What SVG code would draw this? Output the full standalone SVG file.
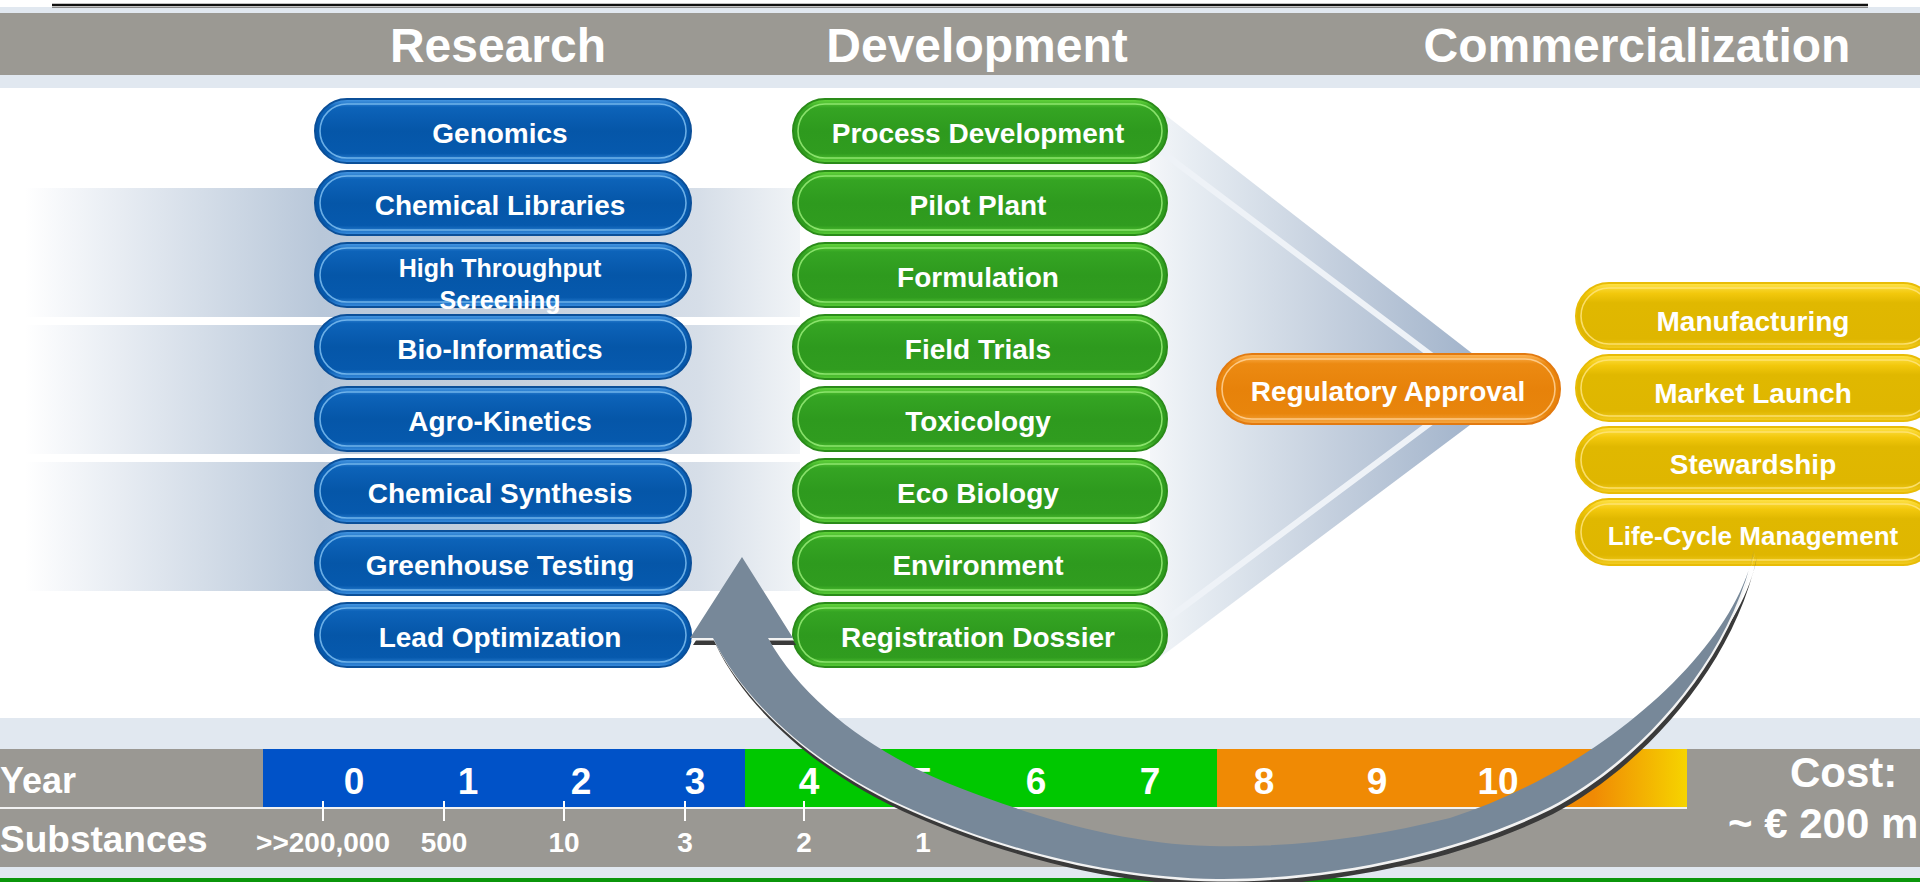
<svg xmlns="http://www.w3.org/2000/svg" width="1920" height="882" viewBox="0 0 1920 882">
  <defs>
    <!-- glossy pill fills -->
    <linearGradient id="gBlue" x1="0" y1="0" x2="0" y2="1">
      <stop offset="0" stop-color="#4a9be6"/>
      <stop offset="0.13" stop-color="#0d63b9"/>
      <stop offset="0.5" stop-color="#0556a8"/>
      <stop offset="0.85" stop-color="#0659ad"/>
      <stop offset="1" stop-color="#3a8ee0"/>
    </linearGradient>
    <linearGradient id="gGreen" x1="0" y1="0" x2="0" y2="1">
      <stop offset="0" stop-color="#66d83e"/>
      <stop offset="0.14" stop-color="#35a523"/>
      <stop offset="0.5" stop-color="#2e9a1e"/>
      <stop offset="0.85" stop-color="#309c1f"/>
      <stop offset="1" stop-color="#5acd38"/>
    </linearGradient>
    <linearGradient id="gOrange" x1="0" y1="0" x2="0" y2="1">
      <stop offset="0" stop-color="#ffb85a"/>
      <stop offset="0.14" stop-color="#ec8a12"/>
      <stop offset="0.5" stop-color="#e7820a"/>
      <stop offset="0.85" stop-color="#e8850c"/>
      <stop offset="1" stop-color="#f6a844"/>
    </linearGradient>
    <linearGradient id="gYellow" x1="0" y1="0" x2="0" y2="1">
      <stop offset="0" stop-color="#ffe34a"/>
      <stop offset="0.16" stop-color="#f2c80c"/>
      <stop offset="0.3" stop-color="#e0b800"/>
      <stop offset="0.85" stop-color="#dfb600"/>
      <stop offset="1" stop-color="#f4ce24"/>
    </linearGradient>
    <!-- soft horizontal bands behind the research column -->
    <linearGradient id="gBand" gradientUnits="userSpaceOnUse" x1="25" y1="0" x2="800" y2="0">
      <stop offset="0" stop-color="#ffffff"/>
      <stop offset="0.05" stop-color="#f5f7fa"/>
      <stop offset="0.38" stop-color="#b8c7d9"/>
      <stop offset="0.62" stop-color="#c3cfdd"/>
      <stop offset="0.87" stop-color="#d6dee8"/>
      <stop offset="1" stop-color="#f1f4f7"/>
    </linearGradient>
    <!-- funnel converging on approval -->
    <linearGradient id="gFunnel" gradientUnits="userSpaceOnUse" x1="1150" y1="0" x2="1520" y2="0">
      <stop offset="0" stop-color="#f4f6f9"/>
      <stop offset="0.12" stop-color="#e6ecf2"/>
      <stop offset="0.55" stop-color="#bfcbdb"/>
      <stop offset="1" stop-color="#97abc5"/>
    </linearGradient>
    <linearGradient id="gLate" gradientUnits="userSpaceOnUse" x1="1217" y1="0" x2="1687" y2="0">
      <stop offset="0" stop-color="#f08a04"/>
      <stop offset="0.8" stop-color="#f08a04"/>
      <stop offset="1" stop-color="#f6d400"/>
    </linearGradient>
    <path id="loopArrow" d="M1754,550 C1735,650 1600,770 1450,818 C1370,838 1290,848 1210,846 C1120,844 1030,815 960,788 C880,757 805,705 768,638 L793,638 L742,557 L690,638 L713,638 C745,705 820,770 913,810 C1000,848 1110,878 1217,879 C1330,880 1460,852 1550,807 C1640,760 1730,660 1754,550 Z"/>
  </defs>
  <style>
    .txt{font-family:"Liberation Sans",Arial,Helvetica,sans-serif;font-weight:bold;fill:#ffffff}
    .lbl{font-size:28px;text-anchor:middle}
    .lbl-s{font-size:25px;text-anchor:middle}
    .head{font-size:48px;text-anchor:middle}
    .yr{font-size:37px;text-anchor:middle}
    .sub{font-size:28px;text-anchor:middle}
    .row{font-size:36px}
    .pill-body{stroke-width:2}
    .pill-rim{fill:none;stroke-width:1.6;opacity:0.85}
    .blue .pill-body{fill:url(#gBlue);stroke:#0b4f98}
    .blue .pill-rim{stroke:#7dbdf0}
    .green .pill-body{fill:url(#gGreen);stroke:#2a8b19}
    .green .pill-rim{stroke:#98ec78}
    .orange .pill-body{fill:url(#gOrange);stroke:#e27a10}
    .orange .pill-rim{stroke:#ffd298}
    .yellow .pill-body{fill:url(#gYellow);stroke:#e8bc06}
    .yellow .pill-rim{stroke:#ffe47a}
    .band{fill:url(#gBand)}
    .tick{stroke:#ffffff;stroke-width:2}
  </style>

  <!-- page background -->
  <rect x="0" y="0" width="1920" height="882" fill="#ffffff"/>
  <rect x="0" y="7" width="1920" height="81" fill="#e1e8f0"/>
  <line x1="52" y1="5" x2="1868" y2="5" stroke="#111111" stroke-width="2.5"/>
  <line x1="52" y1="7.5" x2="1868" y2="7.5" stroke="#8a8a8a" stroke-width="1"/>

  <!-- phase header -->
  <g id="phase-header">
    <rect x="0" y="13" width="1920" height="62" fill="#9b9993"/>
    <text class="txt head" x="498" y="62">Research</text>
    <text class="txt head" x="977" y="62">Development</text>
    <text class="txt head" x="1637" y="62">Commercialization</text>
  </g>

  <!-- background bands -->
  <g id="bands">
    <rect class="band" x="25" y="188" width="775" height="129"/>
    <rect class="band" x="25" y="325" width="775" height="129"/>
    <rect class="band" x="25" y="462" width="775" height="129"/>
  </g>

  <!-- funnel -->
  <g id="funnel">
    <polygon points="1150,103 1518,389 1150,665" fill="url(#gFunnel)"/>
    <polyline points="1150,143 1476,389 1150,632" fill="none" stroke="#eef2f7" stroke-width="6" stroke-linejoin="miter"/>
  </g>

  <!-- research column -->
  <g id="n-genomics" class="blue">
    <rect class="pill-body" x="315" y="99" width="376" height="64" rx="32"/>
    <rect class="pill-rim" x="320" y="104" width="366" height="54" rx="27"/>
    <text class="txt lbl" x="500" y="143">Genomics</text>
  </g>
  <g id="n-chemical-libraries" class="blue">
    <rect class="pill-body" x="315" y="171" width="376" height="64" rx="32"/>
    <rect class="pill-rim" x="320" y="176" width="366" height="54" rx="27"/>
    <text class="txt lbl" x="500" y="215">Chemical Libraries</text>
  </g>
  <g id="n-hts" class="blue">
    <rect class="pill-body" x="315" y="243" width="376" height="64" rx="32"/>
    <rect class="pill-rim" x="320" y="248" width="366" height="54" rx="27"/>
    <text class="txt lbl-s" x="500" y="277">High Throughput</text>
    <text class="txt lbl-s" x="500" y="309">Screening</text>
  </g>
  <g id="n-bio-informatics" class="blue">
    <rect class="pill-body" x="315" y="315" width="376" height="64" rx="32"/>
    <rect class="pill-rim" x="320" y="320" width="366" height="54" rx="27"/>
    <text class="txt lbl" x="500" y="359">Bio-Informatics</text>
  </g>
  <g id="n-agro-kinetics" class="blue">
    <rect class="pill-body" x="315" y="387" width="376" height="64" rx="32"/>
    <rect class="pill-rim" x="320" y="392" width="366" height="54" rx="27"/>
    <text class="txt lbl" x="500" y="431">Agro-Kinetics</text>
  </g>
  <g id="n-chemical-synthesis" class="blue">
    <rect class="pill-body" x="315" y="459" width="376" height="64" rx="32"/>
    <rect class="pill-rim" x="320" y="464" width="366" height="54" rx="27"/>
    <text class="txt lbl" x="500" y="503">Chemical Synthesis</text>
  </g>
  <g id="n-greenhouse-testing" class="blue">
    <rect class="pill-body" x="315" y="531" width="376" height="64" rx="32"/>
    <rect class="pill-rim" x="320" y="536" width="366" height="54" rx="27"/>
    <text class="txt lbl" x="500" y="575">Greenhouse Testing</text>
  </g>
  <g id="n-lead-optimization" class="blue">
    <rect class="pill-body" x="315" y="603" width="376" height="64" rx="32"/>
    <rect class="pill-rim" x="320" y="608" width="366" height="54" rx="27"/>
    <text class="txt lbl" x="500" y="647">Lead Optimization</text>
  </g>

  <!-- development column -->
  <g id="n-process-development" class="green">
    <rect class="pill-body" x="793" y="99" width="374" height="64" rx="32"/>
    <rect class="pill-rim" x="798" y="104" width="364" height="54" rx="27"/>
    <text class="txt lbl" x="978" y="143">Process Development</text>
  </g>
  <g id="n-pilot-plant" class="green">
    <rect class="pill-body" x="793" y="171" width="374" height="64" rx="32"/>
    <rect class="pill-rim" x="798" y="176" width="364" height="54" rx="27"/>
    <text class="txt lbl" x="978" y="215">Pilot Plant</text>
  </g>
  <g id="n-formulation" class="green">
    <rect class="pill-body" x="793" y="243" width="374" height="64" rx="32"/>
    <rect class="pill-rim" x="798" y="248" width="364" height="54" rx="27"/>
    <text class="txt lbl" x="978" y="287">Formulation</text>
  </g>
  <g id="n-field-trials" class="green">
    <rect class="pill-body" x="793" y="315" width="374" height="64" rx="32"/>
    <rect class="pill-rim" x="798" y="320" width="364" height="54" rx="27"/>
    <text class="txt lbl" x="978" y="359">Field Trials</text>
  </g>
  <g id="n-toxicology" class="green">
    <rect class="pill-body" x="793" y="387" width="374" height="64" rx="32"/>
    <rect class="pill-rim" x="798" y="392" width="364" height="54" rx="27"/>
    <text class="txt lbl" x="978" y="431">Toxicology</text>
  </g>
  <g id="n-eco-biology" class="green">
    <rect class="pill-body" x="793" y="459" width="374" height="64" rx="32"/>
    <rect class="pill-rim" x="798" y="464" width="364" height="54" rx="27"/>
    <text class="txt lbl" x="978" y="503">Eco Biology</text>
  </g>
  <g id="n-environment" class="green">
    <rect class="pill-body" x="793" y="531" width="374" height="64" rx="32"/>
    <rect class="pill-rim" x="798" y="536" width="364" height="54" rx="27"/>
    <text class="txt lbl" x="978" y="575">Environment</text>
  </g>
  <g id="n-registration-dossier" class="green">
    <rect class="pill-body" x="793" y="603" width="374" height="64" rx="32"/>
    <rect class="pill-rim" x="798" y="608" width="364" height="54" rx="27"/>
    <text class="txt lbl" x="978" y="647">Registration Dossier</text>
  </g>

  <!-- approval -->
  <g id="n-regulatory-approval" class="orange">
    <rect class="pill-body" x="1217" y="354" width="343" height="70" rx="35"/>
    <rect class="pill-rim" x="1222" y="359" width="333" height="60" rx="30"/>
    <text class="txt lbl" x="1388" y="401">Regulatory Approval</text>
  </g>

  <!-- commercialization column -->
  <g id="n-manufacturing" class="yellow">
    <rect class="pill-body" x="1576" y="283" width="360" height="66" rx="33"/>
    <rect class="pill-rim" x="1581" y="288" width="350" height="56" rx="28"/>
    <text class="txt lbl" x="1753" y="331">Manufacturing</text>
  </g>
  <g id="n-market-launch" class="yellow">
    <rect class="pill-body" x="1576" y="355" width="360" height="66" rx="33"/>
    <rect class="pill-rim" x="1581" y="360" width="350" height="56" rx="28"/>
    <text class="txt lbl" x="1753" y="403">Market Launch</text>
  </g>
  <g id="n-stewardship" class="yellow">
    <rect class="pill-body" x="1576" y="427" width="360" height="66" rx="33"/>
    <rect class="pill-rim" x="1581" y="432" width="350" height="56" rx="28"/>
    <text class="txt lbl" x="1753" y="474">Stewardship</text>
  </g>
  <g id="n-life-cycle-management" class="yellow">
    <rect class="pill-body" x="1576" y="499" width="360" height="66" rx="33"/>
    <rect class="pill-rim" x="1581" y="504" width="350" height="56" rx="28"/>
    <text class="txt lbl" x="1753" y="545" style="font-size:26px">Life-Cycle Management</text>
  </g>

  <!-- timeline -->
  <g id="timeline">
    <rect x="0" y="718" width="1920" height="160" fill="#e1e8f0"/>
    <rect x="0" y="749" width="263" height="58" fill="#9a9893"/>
    <rect x="263" y="749" width="482" height="58" fill="#0052c8"/>
    <rect x="745" y="749" width="472" height="58" fill="#00c800"/>
    <rect x="1217" y="749" width="470" height="58" fill="url(#gLate)"/>
    <rect x="0" y="807" width="1687" height="2" fill="#f2f2f2"/>
    <rect x="0" y="809" width="1687" height="58" fill="#9a9893"/>
    <rect x="1687" y="749" width="233" height="118" fill="#9a9893"/>
    <rect x="0" y="878" width="1920" height="4" fill="#0b960b"/>

    <text class="txt row" x="0" y="793">Year</text>
    <text class="txt row" x="0" y="852" style="font-size:37px">Substances</text>

    <text class="txt yr" x="354" y="794">0</text>
    <text class="txt yr" x="468" y="794">1</text>
    <text class="txt yr" x="581" y="794">2</text>
    <text class="txt yr" x="695" y="794">3</text>
    <text class="txt yr" x="809" y="794">4</text>
    <text class="txt yr" x="922" y="794">5</text>
    <text class="txt yr" x="1036" y="794">6</text>
    <text class="txt yr" x="1150" y="794">7</text>
    <text class="txt yr" x="1264" y="794">8</text>
    <text class="txt yr" x="1377" y="794">9</text>
    <text class="txt yr" x="1498" y="794">10</text>

    <line class="tick" x1="323" y1="801" x2="323" y2="821"/>
    <line class="tick" x1="444" y1="801" x2="444" y2="821"/>
    <line class="tick" x1="564" y1="801" x2="564" y2="821"/>
    <line class="tick" x1="685" y1="801" x2="685" y2="821"/>
    <line class="tick" x1="804" y1="801" x2="804" y2="821"/>

    <text class="txt sub" x="323" y="852">&gt;&gt;200,000</text>
    <text class="txt sub" x="444" y="852">500</text>
    <text class="txt sub" x="564" y="852">10</text>
    <text class="txt sub" x="685" y="852">3</text>
    <text class="txt sub" x="804" y="852">2</text>
    <text class="txt sub" x="923" y="852">1</text>

    <text class="txt" x="1790" y="787" style="font-size:42px">Cost:</text>
    <text class="txt" x="1728" y="838" style="font-size:42px">~ € 200 m</text>
  </g>

  <!-- feedback loop from life-cycle management back to research -->
  <g id="connectors">
    <use href="#loopArrow" transform="translate(3,7)" fill="#3a3a3a"/>
    <use href="#loopArrow" transform="translate(1,2.5)" fill="#f2f2f2"/>
    <use href="#loopArrow" fill="#778899"/>
  </g>
</svg>
